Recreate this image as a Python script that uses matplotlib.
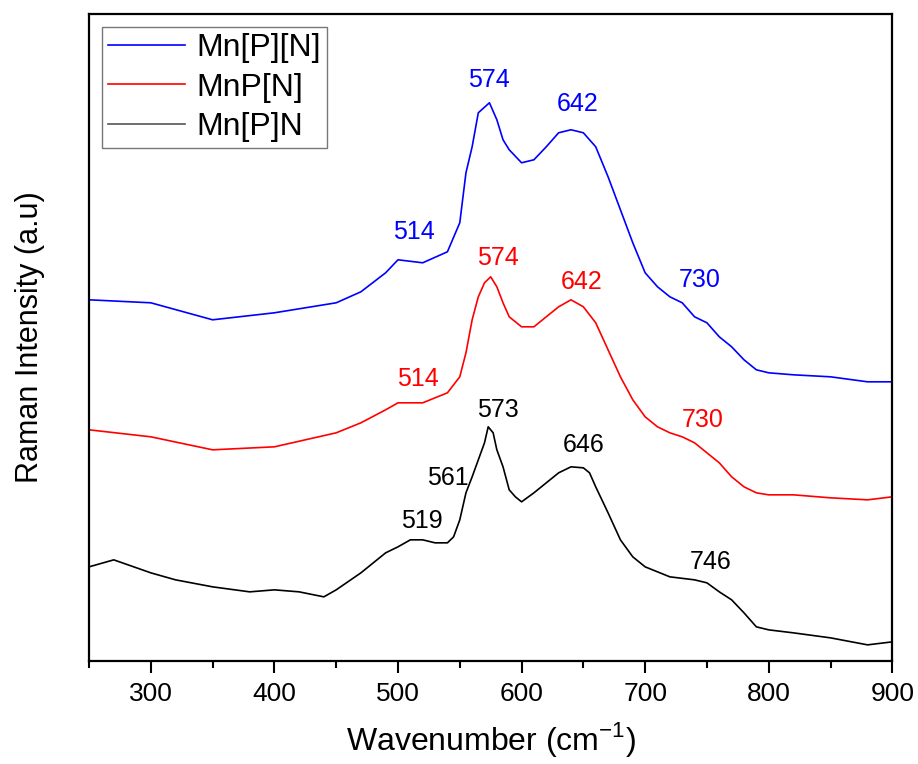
import matplotlib
matplotlib.use("Agg")
import matplotlib.pyplot as plt
from matplotlib.ticker import MultipleLocator

plt.rcParams['font.family'] = ['Liberation Sans', 'DejaVu Sans']
plt.rcParams['mathtext.fontset'] = 'custom'
plt.rcParams['mathtext.rm'] = 'Liberation Sans'

# wavenumber (cm-1) and intensity (arb. units, offset already included)
wn_blue = [250, 300, 350, 400, 450, 470, 490, 500, 520, 540, 550, 555, 560, 565,
           574, 580, 585, 590, 600, 610, 620, 630, 640, 650, 660, 670, 680, 690,
           700, 710, 720, 730, 740, 750, 760, 770, 780, 790, 800, 820, 850, 880, 900]
int_blue = [361, 358, 341, 348, 358, 369, 388, 401, 398, 409, 438, 488, 514, 548,
            558, 541, 521, 511, 498, 501, 514, 528, 531, 528, 514, 484, 451, 418,
            388, 374, 364, 358, 344, 338, 324, 314, 301, 291, 288, 286, 284, 279, 279]

wn_red = [250, 300, 350, 400, 450, 470, 490, 500, 520, 540, 550, 555, 560, 565,
          570, 575, 580, 585, 590, 600, 610, 620, 630, 640, 650, 660, 670, 680,
          690, 700, 710, 720, 730, 740, 750, 760, 770, 780, 790, 800, 820, 850, 880, 900]
int_red = [231, 224, 211, 214, 228, 238, 251, 258, 258, 268, 284, 308, 341, 364,
           378, 384, 374, 358, 344, 334, 334, 344, 354, 361, 354, 338, 311, 284,
           261, 244, 234, 228, 224, 218, 208, 198, 184, 174, 168, 166, 166, 163, 161, 164]

wn_black = [250, 270, 300, 320, 350, 380, 400, 420, 440, 450, 470, 490, 500, 510,
            520, 530, 540, 545, 550, 555, 560, 565, 570, 573, 577, 580, 585, 590,
            595, 600, 610, 620, 630, 640, 650, 655, 660, 670, 680, 690, 700, 720,
            740, 750, 760, 770, 780, 790, 800, 820, 850, 880, 900]
int_black = [94, 101, 88, 81, 74, 69, 71, 69, 64, 71, 88, 108, 114, 121,
             121, 118, 118, 124, 141, 168, 184, 201, 218, 234, 228, 211, 194, 171,
             164, 159, 168, 178, 188, 194, 193, 188, 174, 148, 121, 104, 94, 84,
             81, 78, 69, 61, 48, 34, 31, 28, 23, 16, 19]

# peak labels: (x, y, text)
labels_blue = [(512.6, 429, "514"), (573.3, 581, "574"), (645.2, 557, "642"), (743.9, 381, "730")]
labels_red = [(515.8, 282, "514"), (580.6, 403, "574"), (648.4, 379, "642"), (746.3, 241, "730")]
labels_black = [(580.6, 251, "573"), (540.2, 183, "561"), (519.2, 140, "519"),
                (650.0, 216, "646"), (752.7, 99, "746")]

fig = plt.figure(figsize=(9.18, 7.64), dpi=100)
ax = fig.add_axes([0.097, 0.135, 0.875, 0.847])

ax.plot(wn_blue, int_blue, color="#0000ff", lw=1.2, label="Mn[P][N]")
ax.plot(wn_red, int_red, color="#ff0000", lw=1.2, label="MnP[N]")
ax.plot(wn_black, int_black, color="#000000", lw=1.2, label="Mn[P]N")

for x, y, t in labels_blue:
    ax.text(x, y, t, color="#0000ff", fontsize=18, ha="center", va="center")
for x, y, t in labels_red:
    ax.text(x, y, t, color="#ff0000", fontsize=18, ha="center", va="center")
for x, y, t in labels_black:
    ax.text(x, y, t, color="black", fontsize=18, ha="center", va="center")

ax.set_xlim(250, 900)
ax.set_ylim(0, 647)
ax.set_yticks([])
ax.xaxis.set_major_locator(MultipleLocator(100))
ax.xaxis.set_minor_locator(MultipleLocator(50))
ax.tick_params(axis="x", which="major", direction="out", length=8.5, width=1.5, labelsize=19, pad=7)
ax.tick_params(axis="x", which="minor", direction="out", length=5, width=1.5)
for s in ax.spines.values():
    s.set_linewidth(1.6)

ax.set_xlabel("Wavenumber (cm$^{\\mathregular{-1}}$)", fontsize=23, labelpad=10)
ax.set_ylabel("Raman Intensity (a.u)", fontsize=22, labelpad=32)

leg = ax.legend(loc="upper left", fontsize=23, frameon=True, fancybox=False,
                edgecolor="#555555", handlelength=2.4, borderpad=0.2,
                labelspacing=0.3, handletextpad=0.35, borderaxespad=0.4)
leg.get_frame().set_linewidth(1.0)
leg.legend_handles[2].set_color("#555555")

fig.savefig("out.png", dpi=100)
